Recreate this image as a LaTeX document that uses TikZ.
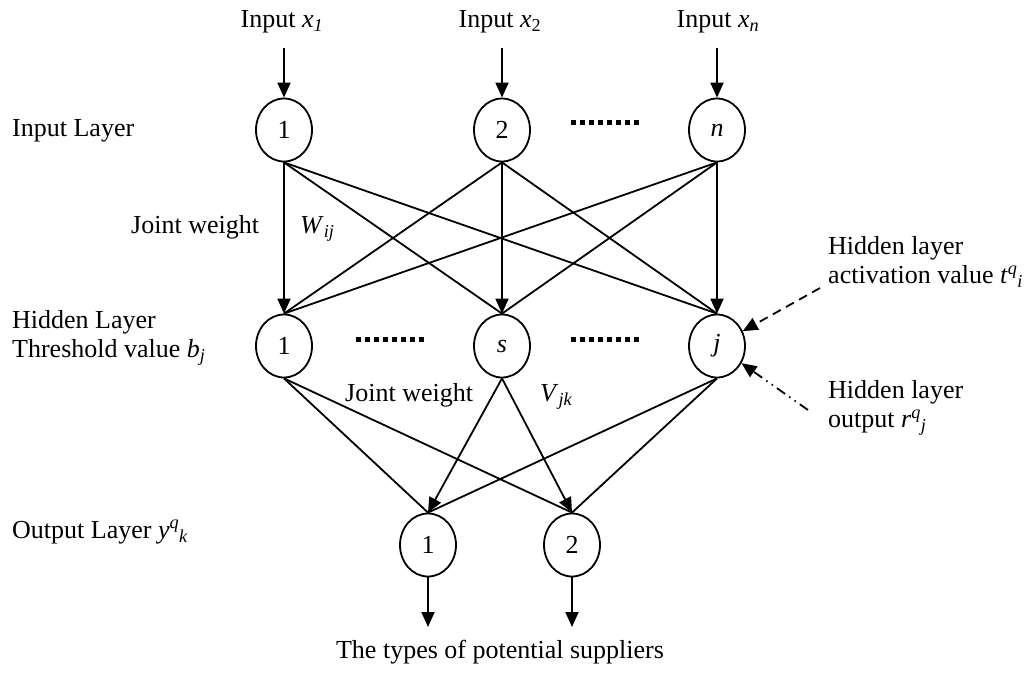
\documentclass[tikz,border=0pt]{standalone}
\usepackage{fontspec}
\setmainfont{Liberation Serif}
\usetikzlibrary{shapes.geometric,arrows.meta}
\begin{document}
\begin{tikzpicture}[x=1pt,y=-1pt,
  neuron/.style={ellipse,draw,line width=1.8pt,minimum width=56pt,minimum height=63pt,inner sep=0pt,font=\fontsize{26}{30}\selectfont},
  lbl/.style={font=\fontsize{26}{29}\selectfont,inner sep=0pt},
  conn/.style={line width=1.8pt},
  arr/.style={conn,-{Triangle[length=15pt,width=13pt]}},
  dotrow/.style={line width=5pt,dash pattern=on 5pt off 4pt},
  dashedarr/.style={line width=1.8pt,dash pattern=on 9pt off 6pt,-{Triangle[length=15pt,width=13pt]}},
  dashdotarr/.style={line width=1.8pt,dash pattern=on 10pt off 5pt on 1.5pt off 5pt on 1.5pt off 5pt,-{Triangle[length=15pt,width=13pt]}}
]
\useasboundingbox (0,0) rectangle (1033,675);

% input labels
\node[lbl] (tx1) at (282,22) {Input \textit{x}\textsubscript{\textit{1}}};
\node[lbl] (tx2) at (500,22) {Input \textit{x}\textsubscript{2}};
\node[lbl] (txn) at (718,22) {Input \textit{x}\textsubscript{\textit{n}}};
\coordinate (a1) at (284,48);
\coordinate (a2) at (502,48);
\coordinate (an) at (717,48);

% neurons
\node[neuron] (I1) at (284,130) {1};
\node[neuron] (I2) at (502,130) {2};
\node[neuron] (In) at (717,130) {\textit{n}};
\node[neuron] (H1) at (284,346) {1};
\node[neuron] (Hs) at (502,346) {\textit{s}};
\node[neuron] (Hj) at (717,346) {\textit{j}};
\node[neuron] (O1) at (428,545) {1};
\node[neuron] (O2) at (572,545) {2};

% dotted gaps
\draw[dotrow] (571,122) -- (639,122);
\draw[dotrow] (356,339) -- (424,339);
\draw[dotrow] (571,339) -- (639,339);

% input arrows
\draw[arr] (a1) -- (I1.north);
\draw[arr] (a2) -- (I2.north);
\draw[arr] (an) -- (In.north);

% input -> hidden
\draw[arr] (I1.south) -- (H1.north);
\draw[conn] (I1.south) -- (Hs.north);
\draw[conn] (I1.south) -- (Hj.north);
\draw[conn] (I2.south) -- (H1.north);
\draw[arr] (I2.south) -- (Hs.north);
\draw[conn] (I2.south) -- (Hj.north);
\draw[conn] (In.south) -- (H1.north);
\draw[conn] (In.south) -- (Hs.north);
\draw[arr] (In.south) -- (Hj.north);

% hidden -> output
\draw[conn] (H1.south) -- (O1.north);
\draw[conn] (H1.south) -- (O2.north);
\draw[arr] (Hs.south) -- (O1.north);
\draw[arr] (Hs.south) -- (O2.north);
\draw[conn] (Hj.south) -- (O1.north);
\draw[conn] (Hj.south) -- (O2.north);

% output arrows
\coordinate (b1) at (428,627);
\coordinate (b2) at (572,627);
\draw[arr] (O1.south) -- (b1);
\draw[arr] (O2.south) -- (b2);

% labels
\node[lbl,anchor=west] (lin) at (12,131) {Input Layer};
\node[lbl,anchor=west] (jw1) at (131,227) {Joint weight};
\node[lbl,anchor=west] (wij) at (300,229) {\textit{W}\textsubscript{\textit{ij}}};
\node[lbl,anchor=west,align=left] (lhid) at (12,338) {Hidden Layer\\Threshold value \textit{b}\textsubscript{\textit{j}}};
\node[lbl,anchor=west] (jw2) at (345,395) {Joint weight};
\node[lbl,anchor=west] (vjk) at (540,397) {\textit{V}\textsubscript{\textit{jk}}};
\node[lbl,anchor=west] (lout) at (12,532) {Output Layer \textit{y}\textsuperscript{\textit{q}}\textsubscript{\textit{k}}};
\node[lbl] (types) at (500,652) {The types of potential suppliers};
\node[lbl,anchor=west,align=left] (act) at (828,262) {Hidden layer\\activation value \textit{t}\textsuperscript{\textit{q}}\textsubscript{\textit{i}}};
\node[lbl,anchor=west,align=left] (hout) at (828,408) {Hidden layer\\output \textit{r}\textsuperscript{\textit{q}}\textsubscript{\textit{j}}};

% annotation arrows
\coordinate (c1) at (820,288);
\coordinate (c2) at (808,410);
\draw[dashedarr] (c1) -- (Hj.30);
\draw[dashdotarr] (c2) -- (Hj.-35);
\end{tikzpicture}
\end{document}
